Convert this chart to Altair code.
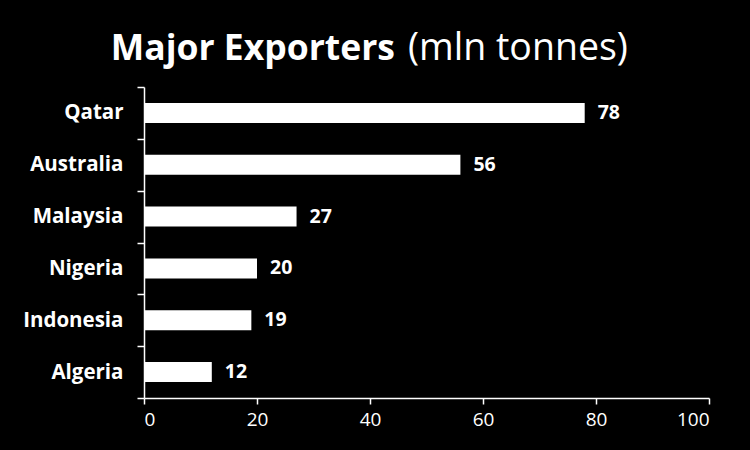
import altair as alt
import pandas as pd

countries = ["Qatar", "Australia", "Malaysia", "Nigeria", "Indonesia", "Algeria"]
values = [78, 56, 27, 20, 19, 12]
title_bold = ["Major Exporters"]
title_regular = ["(mln tonnes)"]
x_ticks = [0, 20, 40, 60, 80, 100]

FONT = "Open Sans"

df = pd.DataFrame({"country": countries, "value": values})

y_enc = alt.Y(
    "country:N",
    sort=countries,
    title=None,
    scale=alt.Scale(paddingInner=0, paddingOuter=0),
    axis=alt.Axis(
        tickBand="extent",
        domainColor="white",
        tickColor="white",
        tickSize=7,
        labelColor="white",
        labelFont=FONT,
        labelFontWeight="bold",
        labelFontSize=20.5,
        labelPadding=14,
        domainWidth=1.5,
        tickWidth=1.5,
    ),
)
x_enc = alt.X(
    "value:Q",
    title=None,
    scale=alt.Scale(domain=[0, 100]),
    axis=alt.Axis(
        values=x_ticks,
        grid=False,
        domainColor="white",
        tickColor="white",
        tickSize=6,
        labelColor="white",
        labelFont=FONT,
        labelFontSize=19,
        labelPadding=6,
        domainWidth=1.5,
        tickWidth=1.5,
    ),
)

base = alt.Chart(df)
bars = base.mark_bar(color="white", size=20).encode(x=x_enc, y=y_enc)
labels = base.mark_text(
    align="left", baseline="middle", dx=13, color="white",
    font=FONT, fontWeight="bold", fontSize=19.5,
).encode(x="value:Q", y=alt.Y("country:N", sort=countries), text="value:Q")

t1 = alt.Chart(pd.DataFrame({"t": title_bold})).mark_text(
    align="right", baseline="alphabetic", color="white",
    font=FONT, fontWeight="bold", fontSize=35.5,
).encode(text="t:N", x=alt.value(251), y=alt.value(-27))
t2 = alt.Chart(pd.DataFrame({"t": title_regular})).mark_text(
    align="left", baseline="alphabetic", color="white",
    font=FONT, fontWeight="normal", fontSize=37.5,
).encode(text="t:N", x=alt.value(264), y=alt.value(-27))

chart = alt.layer(bars, labels, t1, t2).properties(
    width=565, height=311,
    background="black",
    padding={"left": 144, "top": 87, "right": 41, "bottom": 52},
    autosize=alt.AutoSizeParams(type="none"),
).configure_view(stroke=None)

chart.save("out.html", embed_options={"renderer": "svg", "actions": False})
